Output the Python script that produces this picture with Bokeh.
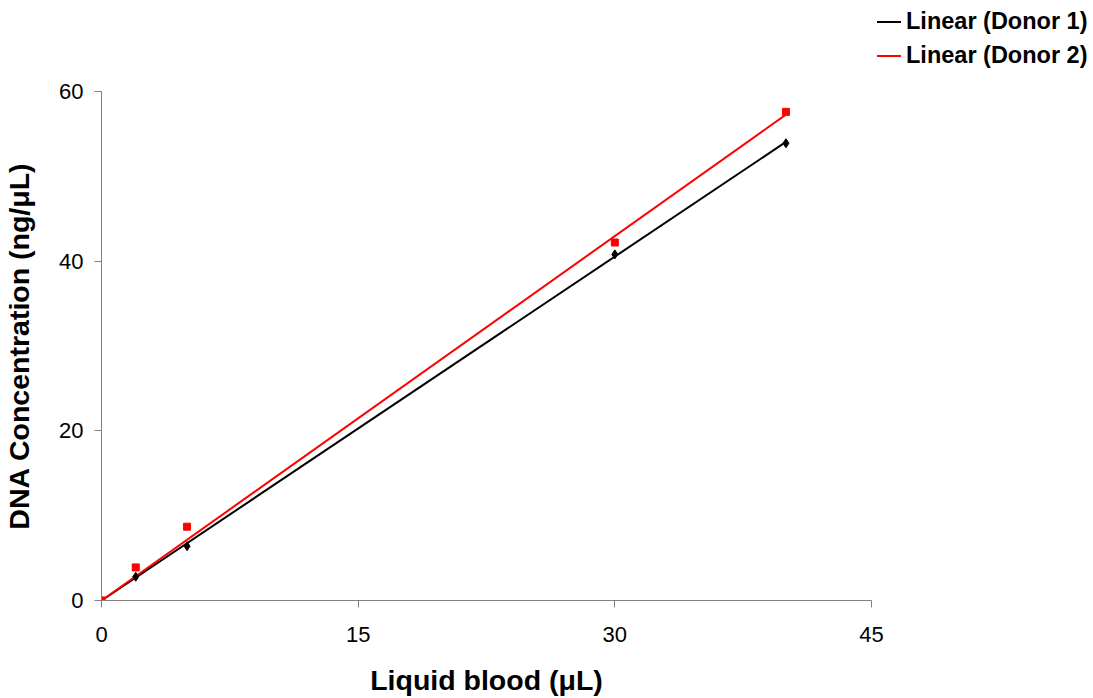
import numpy as np
from bokeh.plotting import figure
from bokeh.layouts import column
from bokeh.models import Range1d, FixedTicker, Div
from bokeh.embed import file_html
from bokeh.resources import INLINE

# Data
blood_ul = [0, 2, 5, 30, 40]
donor1 = [0.0, 2.8, 6.4, 40.8, 53.9]
donor2 = [0.0, 3.9, 8.7, 42.2, 57.6]
x_ticks = [0, 15, 30, 45]
y_ticks = [0, 20, 40, 60]
series_names = ["Linear (Donor 1)", "Linear (Donor 2)"]
series_colors = ["black", "#ff0000"]

FONT = "Liberation Sans"
W = 1093
LEG_H = 70

# ---- main chart ----
p = figure(width=W, height=698 - LEG_H, output_backend="svg", toolbar_location=None,
           x_range=Range1d(x_ticks[0], x_ticks[-1]), y_range=Range1d(y_ticks[0], y_ticks[-1]),
           min_border_left=98, min_border_top=21, min_border_right=222, min_border_bottom=98)
p.outline_line_color = None
p.xgrid.visible = False
p.ygrid.visible = False

# Linear trendlines (zero intercept)
def fit_line(xs, ys):
    xs = np.asarray(xs, float); ys = np.asarray(ys, float)
    slope = (xs * ys).sum() / (xs * xs).sum()
    lx = np.array([0.0, xs.max()])
    return lx, slope * lx

lx1, ly1 = fit_line(blood_ul, donor1)
lx2, ly2 = fit_line(blood_ul, donor2)
p.line(lx1, ly1, line_color=series_colors[0], line_width=2)
p.line(lx2, ly2, line_color=series_colors[1], line_width=2)

p.scatter(blood_ul, donor1, marker="diamond", size=9, fill_color="black", line_color="black")
p.scatter(blood_ul, donor2, marker="square", size=7, fill_color="#ff0000", line_color="#ff0000")

for ax in (p.xaxis[0], p.yaxis[0]):
    ax.axis_line_color = "#808080"
    ax.major_tick_line_color = "#808080"
    ax.minor_tick_line_color = None
    ax.major_tick_in = 0
    ax.major_tick_out = 7
    ax.major_label_text_font = FONT
    ax.major_label_text_font_size = "22px"
    ax.major_label_text_color = "black"
    ax.axis_label_text_font = FONT
    ax.axis_label_text_font_size = "28.5px"
    ax.axis_label_text_font_style = "bold"
    ax.axis_label_text_color = "black"

p.xaxis.ticker = FixedTicker(ticks=x_ticks)
p.yaxis.ticker = FixedTicker(ticks=y_ticks)
p.xaxis.axis_label = "Liquid blood (\u03bcL)"
p.yaxis.axis_label = "DNA Concentration (ng/\u03bcL)"
p.xaxis.major_label_standoff = 19
p.yaxis.major_label_standoff = 11
p.xaxis.axis_label_standoff = 19
p.yaxis.axis_label_standoff = 21

# ---- legend strip above the chart (trendline legend, as in the source) ----
rows = []
for i, (name, col) in enumerate(zip(series_names, series_colors)):
    cy = 22 + 34 * i
    rows.append(
        f'<div style="position:absolute;left:877px;top:{cy - 1}px;width:24px;height:2px;background:{col};"></div>'
        f'<div style="position:absolute;left:906px;top:{cy}px;transform:translateY(-50%);'
        f'white-space:nowrap;line-height:1;">{name}</div>'
    )
legend_html = (
    f'<div style="position:relative;width:{W}px;height:{LEG_H}px;font-family:\'{FONT}\';'
    f'font-weight:bold;font-size:23.5px;color:black;">' + "".join(rows) + '</div>'
)
legend_div = Div(text=legend_html, width=W, height=LEG_H, margin=(0, 0, 0, 0))

layout = column(legend_div, p, spacing=0)
open("out.html", "w").write(file_html(layout, INLINE))
